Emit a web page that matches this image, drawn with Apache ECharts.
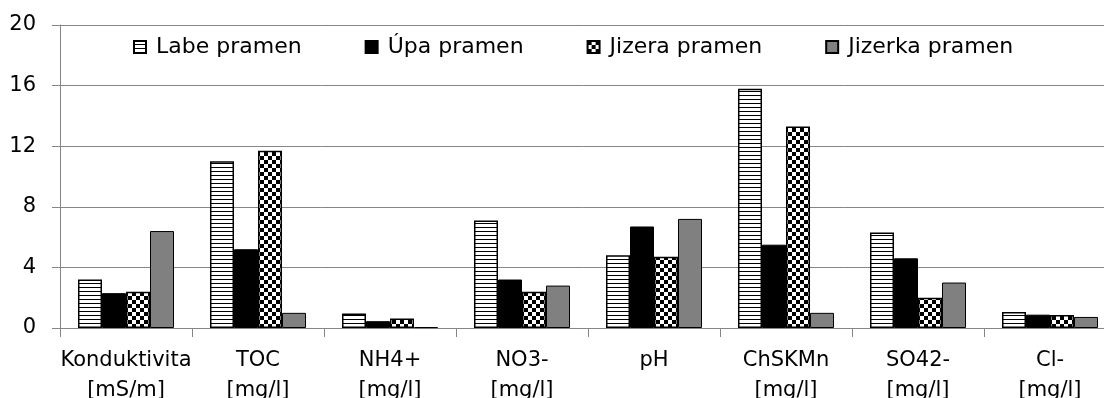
<!DOCTYPE html>
<html>
<head>
<meta charset="utf-8">
<script src="https://cdn.jsdelivr.net/npm/echarts@6/dist/echarts.min.js"></script>
<style>
  html, body { margin: 0; padding: 0; background: #fff; }
  #chart { width: 1104px; height: 398px; }
</style>
</head>
<body>
<div id="chart"></div>
<script>
// Parameters measured at the four springs
const categories = [
  'Konduktivita\n[mS/m]', 'TOC\n[mg/l]', 'NH4+\n[mg/l]', 'NO3-\n[mg/l]',
  'pH', 'ChSKMn\n[mg/l]', 'SO42-\n[mg/l]', 'Cl-\n[mg/l]'
];
const seriesNames = ['Labe pramen', 'Úpa pramen', 'Jizera pramen', 'Jizerka pramen'];
const labe    = [3.2, 11.0, 0.95, 7.1, 4.8, 15.8, 6.3, 1.05];
const upa     = [2.3, 5.2, 0.45, 3.2, 6.7, 5.5, 4.6, 0.88];
const jizera  = [2.4, 11.7, 0.62, 2.4, 4.7, 13.3, 2.0, 0.86];
const jizerka = [6.4, 1.0, 0.06, 2.8, 7.2, 1.0, 3.0, 0.73];
const yTicks = { min: 0, max: 20, interval: 4 };

// Fill patterns: horizontal stripes and a checkerboard
function stripePattern() {
  const c = document.createElement('canvas');
  c.width = 4; c.height = 4;
  const g = c.getContext('2d');
  g.fillStyle = '#fff'; g.fillRect(0, 0, 4, 4);
  g.fillStyle = '#000'; g.fillRect(0, 3, 4, 1);
  return { image: c, repeat: 'repeat' };
}
function checkerPattern() {
  const c = document.createElement('canvas');
  c.width = 8; c.height = 8;
  const g = c.getContext('2d');
  g.fillStyle = '#fff'; g.fillRect(0, 0, 8, 8);
  g.fillStyle = '#000';
  g.fillRect(0, 0, 4, 4);
  g.fillRect(4, 4, 4, 4);
  return { image: c, repeat: 'repeat' };
}

const font = '"DejaVu Sans", Verdana, sans-serif';
const gridGray = '#868686';

const styles = [
  { color: stripePattern(), borderColor: '#000', borderWidth: 1.5 },
  { color: '#000', borderColor: '#000', borderWidth: 1 },
  { color: checkerPattern(), borderColor: '#000', borderWidth: 1.5 },
  { color: '#808080', borderColor: '#000', borderWidth: 1 }
];
const values = [labe, upa, jizera, jizerka];

const chart = echarts.init(document.getElementById('chart'), null, { renderer: 'canvas' });
chart.setOption({
  animation: false,
  backgroundColor: '#fff',
  grid: {
    left: 60, right: -12, top: 25, bottom: 70,
    containLabel: false, outerBoundsMode: 'none'
  },
  legend: {
    left: 133, top: 36, padding: 0,
    itemWidth: 12, itemHeight: 12, itemGap: 63,
    icon: 'rect',
    textStyle: { fontFamily: font, fontSize: 22, color: '#000', padding: [0, 0, 0, 5] },
    data: seriesNames
  },
  xAxis: {
    type: 'category',
    data: categories,
    axisLine: { lineStyle: { color: gridGray, width: 1 } },
    axisTick: { show: true, length: 9, lineStyle: { color: gridGray } },
    axisLabel: {
      fontFamily: font, fontSize: 21, color: '#000',
      lineHeight: 30, margin: 18, interval: 0
    }
  },
  yAxis: {
    type: 'value',
    min: yTicks.min, max: yTicks.max, interval: yTicks.interval,
    axisLine: { show: true, lineStyle: { color: gridGray, width: 1 } },
    axisTick: { show: true, length: 8, lineStyle: { color: gridGray } },
    splitLine: { lineStyle: { color: gridGray, width: 1 } },
    axisLabel: { fontFamily: font, fontSize: 21, color: '#000', margin: 24 }
  },
  series: seriesNames.map((name, i) => ({
    name,
    type: 'bar',
    data: values[i],
    barWidth: 24,
    barGap: '0%',
    itemStyle: styles[i]
  }))
});
</script>
</body>
</html>
